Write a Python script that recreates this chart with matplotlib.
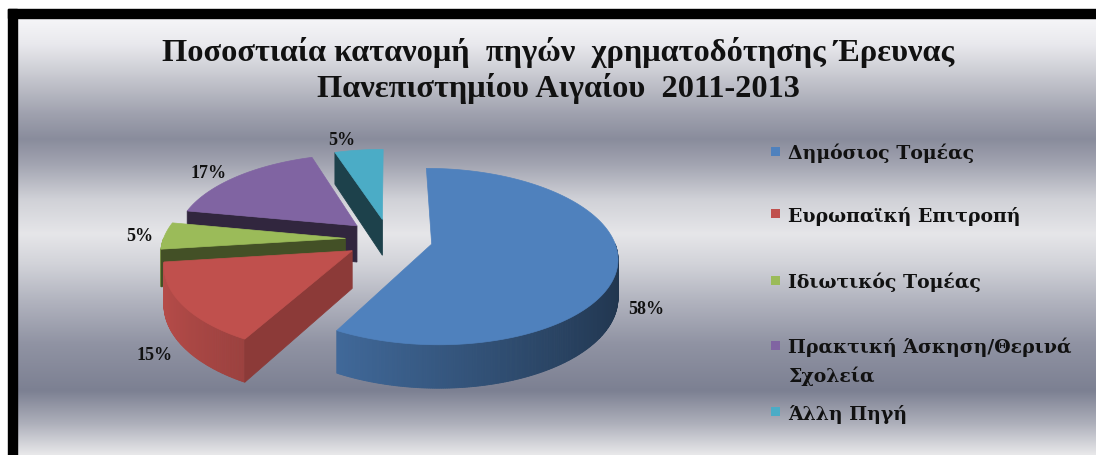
import numpy as np
import matplotlib
matplotlib.use("Agg")
import matplotlib.pyplot as plt
from matplotlib.patches import Polygon, Rectangle
from matplotlib.colors import to_rgb


# chart data
categories = [
    "Δημόσιος Τομέας",
    "Ευρωπαϊκή Επιτροπή",
    "Ιδιωτικός Τομέας",
    "Πρακτική Άσκηση/Θερινά\nΣχολεία",
    "Άλλη Πηγή",
]
shares = [58, 15, 5, 17, 5]
slice_colors = ["#4F81BD", "#C0504D", "#9BBB59", "#8064A2", "#4BACC6"]
title_lines = [
    "Ποσοστιαία κατανομή  πηγών  χρηματοδότησης Έρευνας",
    "Πανεπιστημίου Αιγαίου  2011-2013",
]

# layout, in pixels
W, H = 1096, 456
CX, CY = 389, 240          # centre of the pie top
RX, RY = 182, 85           # radii of the top ellipse
DEPTH = 37                 # thickness of the pie
PERSP = 0.14               # simple perspective strength
EXPLODE = 0.24             # explode distance, in radii
legend_rows = [152, 214.7, 281.3, 346, 413]

# background gradient stops (y pixel, colour)
bg_y = [19, 45, 80, 115, 140, 165, 200, 235, 265, 300, 345, 392, 425, 456]
bg_c = ["#f6f6f8", "#e9e9ed", "#c4c5cd", "#9fa1ae", "#898c9c", "#a2a4b1",
        "#d0d1d7", "#e6e6e9", "#d2d3d9", "#b3b5c0", "#9093a3", "#7c8092",
        "#aeb0bb", "#e8e8ea"]


def project(x, w, z=0.0):
    # x: right, w: towards viewer, z: 0 top face .. 1 bottom face
    s = 1.0 / (1.0 - PERSP * w)
    return CX + RX * x * s, CY + (RY * w + DEPTH * z) * s


def rim(theta, ox, ow):
    t = np.radians(theta)
    return ox + np.sin(t), ow - np.cos(t)


def shade(color, f):
    r, g, b = to_rgb(color)
    return (r * f, g * f, b * f)


fig = plt.figure(figsize=(W / 100, H / 100), dpi=100)
ax = fig.add_axes([0, 0, 1, 1])

# background
ys = np.arange(19, H + 1)
rgb = np.array([to_rgb(c) for c in bg_c])
grad = np.stack([np.interp(ys, bg_y, rgb[:, k]) for k in range(3)], axis=1)
img = np.repeat(grad[:, None, :], 2, axis=1)
ax.imshow(img, extent=(17, W, H, 19), aspect="auto",
          interpolation="bilinear", zorder=0)
ax.add_patch(Rectangle((8, 10), W - 8, 9, color="black", zorder=1))
ax.add_patch(Rectangle((8, 10), 9, H - 10, color="black", zorder=1))

# pie slices, clockwise from 12 o'clock
bounds = np.concatenate([[0], np.cumsum(shares)]) / sum(shares) * 360
slices = []
for i in range(len(shares)):
    t1, t2 = bounds[i], bounds[i + 1]
    mid = np.radians((t1 + t2) / 2)
    dx, dw = np.sin(mid), -np.cos(mid)
    slices.append((EXPLODE * dw, i, t1, t2, EXPLODE * dx, dx, dw))

z = 2
for ow, i, t1, t2, ox, dx, dw in sorted(slices):
    col = slice_colors[i]
    ts = np.linspace(t1, t2, max(int((t2 - t1) * 2), 8))

    # outer wall, front facing part only
    for a, b in zip(ts[:-1], ts[1:]):
        m = np.radians((a + b) / 2)
        if -np.cos(m) <= 0:
            continue
        xa, wa = rim(a, ox, ow)
        xb, wb = rim(b, ox, ow)
        quad = [project(xa, wa, 0), project(xb, wb, 0),
                project(xb, wb, 1), project(xa, wa, 1)]
        c = shade(col, 0.68 - 0.27 * np.sin(m))
        ax.add_patch(Polygon(quad, closed=True, fc=c, ec=c, lw=0.6, zorder=z))

    # radial cut faces
    for t, sign in ((t1, -1), (t2, 1)):
        normal = np.radians(t + sign * 90)
        if -np.cos(normal) <= 1e-6:
            continue
        xr, wr = rim(t, ox, ow)
        quad = [project(ox, ow, 0), project(xr, wr, 0),
                project(xr, wr, 1), project(ox, ow, 1)]
        c = shade(col, 0.38 + 0.4 * max(np.sin(normal), 0))
        ax.add_patch(Polygon(quad, closed=True, fc=c, ec=c, lw=0.6, zorder=z))

    # top face
    xs, ws = rim(ts, ox, ow)
    pts = [project(ox, ow, 0)] + [project(x, w, 0) for x, w in zip(xs, ws)]
    ax.add_patch(Polygon(pts, closed=True, fc=col, ec=col, lw=0.5, zorder=z + 1))

    # percentage label
    r = 1.06 + 0.05 * abs(dw) + 0.08 * max(abs(dw) - 0.9, 0) / 0.1
    if dw > 0.4:
        ha, zl = "center", 1.0
        r += 0.06
    else:
        ha = "left" if dx > 0 else "right"
        zl = 1.05 * np.clip(dw * 4, 0, 1)
        r -= 0.02 * max(dx, 0)
    lx, ly = project(ox + r * dx, ow + r * dw, zl)
    ax.text(lx, ly, f"{shares[i]}%", ha=ha, va="center", fontsize=13,
            fontweight="bold", family="Liberation Serif", color="#111111",
            zorder=30)
    z += 2

# legend
for label, col, yc in zip(categories, slice_colors, legend_rows):
    ax.add_patch(Rectangle((771, yc - 4.5), 9, 9, fc=col, ec="none", zorder=30))
    for j, line in enumerate(label.split("\n")):
        ax.text(788, yc + 7 + 29 * j, line, ha="left", va="baseline",
                fontsize=13.6, fontweight="bold", family="DejaVu Serif",
                color="#111111", zorder=30)

# title
for j, line in enumerate(title_lines):
    ax.text(558, 61 + 36 * j, line, ha="center", va="baseline",
            fontsize=23.3, fontweight="bold", family="Liberation Serif",
            color="#111111", zorder=30)

ax.set_xlim(0, W)
ax.set_ylim(H, 0)
ax.axis("off")

fig.savefig("out.png", dpi=100)
plt.close(fig)
